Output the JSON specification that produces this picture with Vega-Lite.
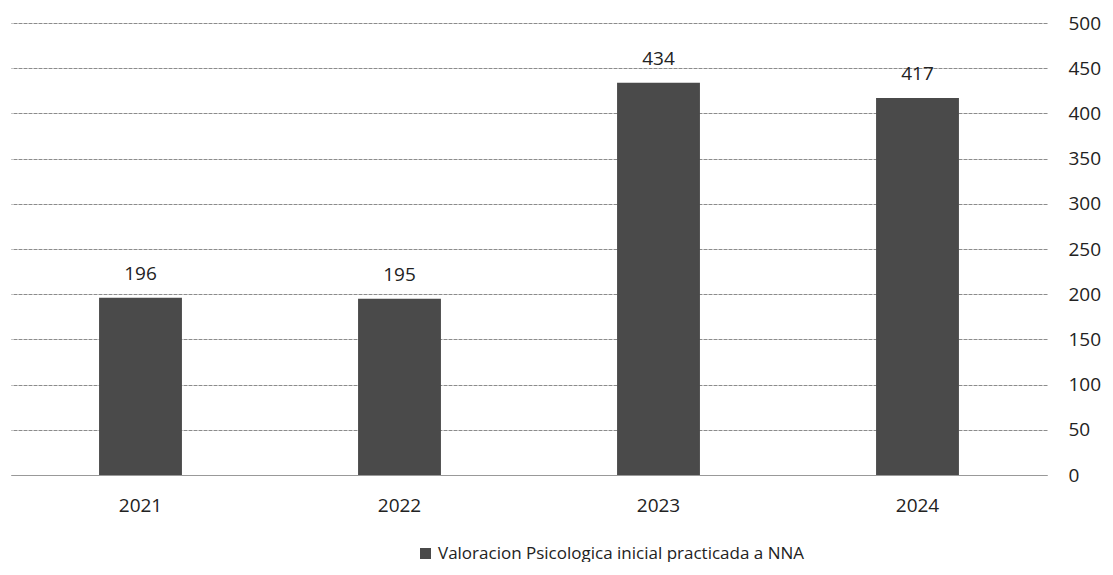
{
  "$schema": "https://vega.github.io/schema/vega-lite/v6.json",
  "width": 1036,
  "height": 452,
  "padding": {"left": 11, "top": 14, "right": 0, "bottom": 0},
  "background": "white",
  "data": {"values": [
    {"year": "2021", "value": 196, "serie": "Valoracion Psicologica inicial practicada a NNA"},
    {"year": "2022", "value": 195, "serie": "Valoracion Psicologica inicial practicada a NNA"},
    {"year": "2023", "value": 434, "serie": "Valoracion Psicologica inicial practicada a NNA"},
    {"year": "2024", "value": 417, "serie": "Valoracion Psicologica inicial practicada a NNA"}
  ]},
  "config": {
    "view": {"stroke": null},
    "font": "Open Sans"
  },
  "encoding": {
    "x": {
      "field": "year", "type": "nominal", "sort": null,
      "scale": {"paddingInner": 0.68, "paddingOuter": 0.34},
      "axis": {"title": null, "labelAngle": 0, "labelFontSize": 19, "labelColor": "#222", "labelPadding": 21, "domain": true, "domainColor": "#999", "ticks": false}
    },
    "y": {
      "field": "value", "type": "quantitative",
      "scale": {"domain": [0, 500]},
      "axis": {"orient": "right", "title": null, "values": [0,50,100,150,200,250,300,350,400,450,500], "labelFontSize": 19, "labelColor": "#222", "labelPadding": 21, "domain": false, "ticks": false, "grid": true, "gridColor": "#8c8c8c", "gridWidth": 1, "gridDash": [4, 1]}
    }
  },
  "layer": [
    {
      "mark": {"type": "bar", "color": "#4a4a4a"},
      "encoding": {
        "color": {
          "field": "serie", "type": "nominal",
          "scale": {"range": ["#4a4a4a"]},
          "legend": {"title": null, "orient": "none", "legendX": 406, "legendY": 522, "symbolType": "square", "symbolSize": 121, "labelFontSize": 17, "labelLimit": 600, "labelColor": "#222", "symbolStrokeWidth": 0}
        }
      }
    },
    {
      "mark": {"type": "text", "baseline": "bottom", "dy": -14, "fontSize": 19, "color": "#222"},
      "encoding": {"text": {"field": "value", "type": "quantitative"}}
    }
  ]
}
